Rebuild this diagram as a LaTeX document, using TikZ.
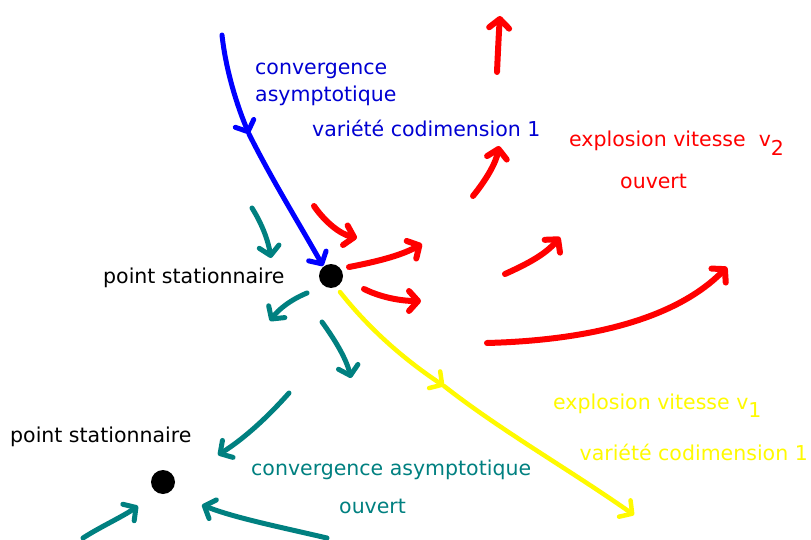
\documentclass[tikz,border=0pt]{standalone}
\usepackage{fontspec}
\setmainfont{DejaVu Sans}
\usetikzlibrary{arrows.meta}
\definecolor{tealc}{RGB}{0,128,128}
\definecolor{bluetext}{RGB}{0,0,210}
\definecolor{yellowc}{RGB}{255,250,0}
\tikzset{
  lbl/.style={inner sep=0pt, anchor=base west, font=\fontsize{20.5}{24}\selectfont},
  tip/.style={-{Straight Barb[length=9pt,width=20pt,round]}, line cap=round},
  redarr/.style={tip, draw=red, line width=6pt},
  bluearr/.style={tip, draw=blue, line width=5pt},
  tealarr/.style={tip, draw=tealc, line width=5pt},
  yelarr/.style={tip, draw=yellowc, line width=4.5pt},
  dot/.style={circle, fill=black, minimum size=24pt, inner sep=0pt},
}
\newcommand{\subv}[1]{\raisebox{-0.4em}{#1}}
\begin{document}
\begin{tikzpicture}[x=1pt,y=-1pt]
\useasboundingbox (0,0) rectangle (811,540);

% stationary points
\node[dot] (p1) at (331,276) {};
\node[dot] (p2) at (163,482) {};

% labels
\node[lbl] (t1) at (103,283) {point stationnaire};
\node[lbl] (t2) at (10,442) {point stationnaire};
\node[lbl, text=bluetext] (b1) at (255,75) {convergence};
\node[lbl, text=bluetext] (b2) at (255,102) {asymptotique};
\node[lbl, text=bluetext] (b3) at (312,137) {variété codimension 1};
\node[lbl, text=red] (r1) at (569,147) {explosion vitesse \ v\subv{2}};
\node[lbl, text=red] (r2) at (620,189) {ouvert};
\node[lbl, text=yellowc] (y1) at (553,409) {explosion vitesse v\subv{1}};
\node[lbl, text=yellowc, anchor=base east] (y2) at (808,460) {variété codimension 1};
\node[lbl, text=tealc] (c1) at (251,475) {convergence asymptotique};
\node[lbl, text=tealc] (c2) at (339,513) {ouvert};

% blue trajectory
\coordinate (bs) at (222,35);
\coordinate (bm) at (249,134);
\coordinate (be) at (323,266);
\draw[bluearr] (bs) .. controls (226,72) and (238,108) .. (bm);
\draw[bluearr] (bm) .. controls (272,180) and (300,225) .. (be);

% yellow trajectory
\coordinate (ys) at (340,292);
\coordinate (ym) at (444,386);
\coordinate (ye) at (634,515);
\draw[yelarr] (ys) .. controls (370,330) and (405,360) .. (ym);
\draw[yelarr] (ym) .. controls (500,430) and (570,470) .. (ye);

% red arrows
\coordinate (ra1) at (497,72);  \coordinate (rb1) at (500,16);
\coordinate (ra2) at (473,196); \coordinate (rb2) at (499,146);
\coordinate (ra3) at (314,206); \coordinate (rb3) at (357,238);
\coordinate (ra4) at (349,267); \coordinate (rb4) at (422,244);
\coordinate (ra5) at (364,289); \coordinate (rb5) at (421,301);
\coordinate (ra6) at (505,274); \coordinate (rb6) at (560,237);
\coordinate (ra7) at (487,343); \coordinate (rb7) at (727,267);
\draw[redarr] (ra1) .. controls (498,50) and (499,30) .. (rb1);
\draw[redarr] (ra2) .. controls (486,180) and (496,163) .. (rb2);
\draw[redarr] (ra3) .. controls (325,222) and (340,234) .. (rb3);
\draw[redarr] (ra4) .. controls (375,262) and (400,256) .. (rb4);
\draw[redarr] (ra5) .. controls (380,297) and (400,301) .. (rb5);
\draw[redarr] (ra6) .. controls (525,265) and (545,255) .. (rb6);
\draw[redarr] (ra7) .. controls (600,340) and (680,315) .. (rb7);

% teal arrows
\coordinate (ta1) at (252,208); \coordinate (tb1) at (271,258);
\coordinate (ta2) at (307,293); \coordinate (tb2) at (270,321);
\coordinate (ta3) at (322,322); \coordinate (tb3) at (351,378);
\coordinate (ta4) at (289,393); \coordinate (tb4) at (218,455);
\coordinate (ta5) at (83,538);  \coordinate (tb5) at (138,506);
\coordinate (ta6) at (327,538); \coordinate (tb6) at (202,505);
\draw[tealarr] (ta1) .. controls (262,224) and (268,240) .. (tb1);
\draw[tealarr] (ta2) .. controls (290,300) and (278,310) .. (tb2);
\draw[tealarr] (ta3) .. controls (335,340) and (346,358) .. (tb3);
\draw[tealarr] (ta4) .. controls (265,420) and (242,440) .. (tb4);
\draw[tealarr] (ta5) .. controls (100,527) and (122,517) .. (tb5);
\draw[tealarr] (ta6) .. controls (280,527) and (235,518) .. (tb6);
\end{tikzpicture}
\end{document}
